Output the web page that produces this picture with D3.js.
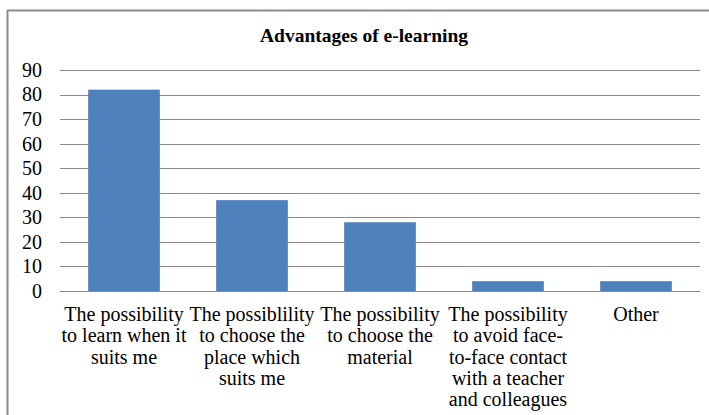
<!DOCTYPE html>
<html>
<head>
<meta charset="utf-8">
<script src="https://cdn.jsdelivr.net/npm/d3@7"></script>
<style>
  body { margin: 0; background: #fff; }
</style>
</head>
<body>
<svg width="709" height="415"></svg>
<script>
var categories = [
  ["The possibility", "to learn when it", "suits me"],
  ["The possiblility", "to choose the", "place which", "suits me"],
  ["The possibility", "to choose the", "material"],
  ["The possibility", "to avoid face-", "to-face contact", "with a teacher", "and colleagues"],
  ["Other"]
];
var values = [82, 37, 28, 4, 4];
var yTicks = [0, 10, 20, 30, 40, 50, 60, 70, 80, 90];
var title = "Advantages of e-learning";

var serif = "'Liberation Serif', 'Times New Roman', serif";

var svg = d3.select("svg"),
    margin = {top: 70, right: 9, bottom: 124, left: 60},
    width = svg.attr("width") - margin.left - margin.right,
    height = svg.attr("height") - margin.top - margin.bottom;

// chart frame (runs off the right and bottom edge)
svg.append("rect")
    .attr("x", 7.5).attr("y", 10.5)
    .attr("width", 720).attr("height", 420)
    .attr("fill", "none")
    .attr("stroke", "#8c8c8c")
    .attr("stroke-width", 2);

svg.append("text")
    .attr("x", 364).attr("y", 42)
    .attr("text-anchor", "middle")
    .attr("font-family", serif)
    .attr("font-size", 19.5)
    .attr("font-weight", "bold")
    .text(title);

var x = d3.scaleBand()
    .domain(d3.range(categories.length))
    .range([0, width])
    .paddingInner(0.44)
    .paddingOuter(0.22);

var y = d3.scaleLinear().domain([0, 90]).range([height, 0]);

var g = svg.append("g")
    .attr("transform", "translate(" + margin.left + "," + margin.top + ")");

g.selectAll(".grid")
  .data(yTicks)
  .enter().append("line")
    .attr("class", "grid")
    .attr("x1", 0).attr("x2", width)
    .attr("y1", function(d) { return Math.round(y(d)) + 0.5; })
    .attr("y2", function(d) { return Math.round(y(d)) + 0.5; })
    .attr("stroke", "#8a8a8a")
    .attr("stroke-width", 1);

g.selectAll(".bar")
  .data(values)
  .enter().append("rect")
    .attr("class", "bar")
    .attr("x", function(d, i) { return x(i); })
    .attr("width", x.bandwidth())
    .attr("y", function(d) { return y(d); })
    .attr("height", function(d) { return y(0) - y(d); })
    .attr("fill", "#4f81bd");

var yAxis = g.append("g")
    .call(d3.axisLeft(y).tickValues(yTicks).tickSize(0).tickPadding(18));
yAxis.attr("font-family", serif).attr("font-size", 20);
yAxis.select(".domain").remove();
yAxis.selectAll("text").attr("fill", "#000");

var lab = g.selectAll(".xlab")
  .data(categories)
  .enter().append("text")
    .attr("class", "xlab")
    .attr("text-anchor", "middle")
    .attr("font-family", serif)
    .attr("font-size", 20)
    .attr("transform", function(d, i) {
      return "translate(" + (x(i) + x.bandwidth() / 2) + "," + (height + 30) + ")";
    });

lab.selectAll("tspan")
  .data(function(d) { return d; })
  .enter().append("tspan")
    .attr("x", 0)
    .attr("y", function(d, i) { return i * 21.3; })
    .text(function(d) { return d; });
</script>
</body>
</html>
